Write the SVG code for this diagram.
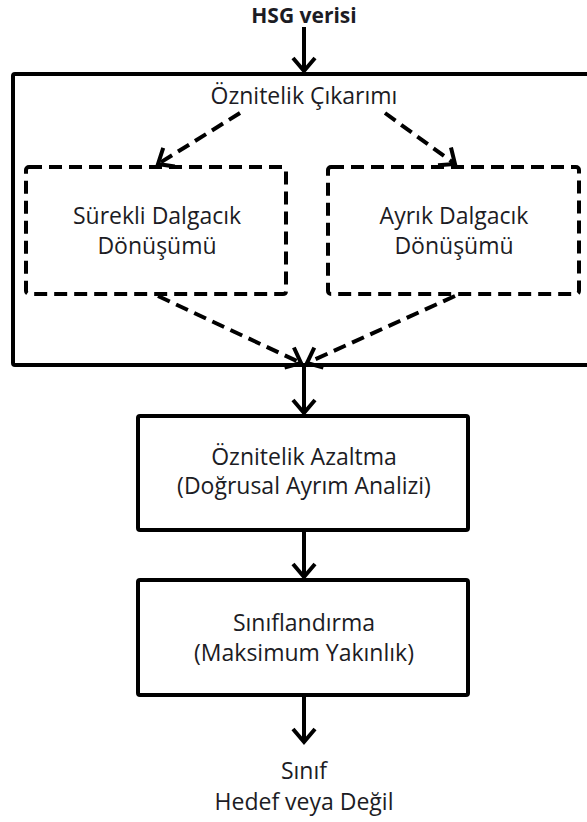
<svg xmlns="http://www.w3.org/2000/svg" width="587" height="822" viewBox="0 0 587 822">
  <style>
    .lbl { font-family: "Open Sans", "Noto Sans", "Liberation Sans", sans-serif; font-size: 23px; fill: #1c1c24; text-anchor: middle; }
    .title { font-weight: bold; font-size: 21px; }
    .box { fill: none; stroke: #000; stroke-width: 4; }
    .dbox { fill: none; stroke: #000; stroke-width: 4; stroke-dasharray: 13 7; }
    .solid { fill: none; stroke: #000; stroke-width: 4; marker-end: url(#head); }
    .dashed { fill: none; stroke: #000; stroke-width: 4; stroke-dasharray: 13 7; marker-end: url(#head); }
  </style>
  <defs>
    <marker id="head" markerUnits="userSpaceOnUse" viewBox="0 0 24 28" markerWidth="24" markerHeight="28" refX="20" refY="14" orient="auto">
      <path d="M7,3 L20,14 L7,25" fill="none" stroke="#000" stroke-width="4" stroke-linejoin="miter"/>
    </marker>
  </defs>
  <rect width="587" height="822" fill="#fff"/>

  <!-- input label -->
  <g id="input">
    <text class="lbl title" x="304" y="23">HSG verisi</text>
  </g>

  <!-- feature extraction container -->
  <g id="extraction">
    <rect class="box" x="13" y="74" width="600" height="291" rx="2"/>
    <text class="lbl" x="304" y="104">Öznitelik Çıkarımı</text>
  </g>

  <g id="cwt">
    <rect class="dbox" x="26" y="167" width="260" height="127" rx="3"/>
    <text class="lbl" x="157" y="224">Sürekli Dalgacık</text>
    <text class="lbl" x="157" y="254">Dönüşümü</text>
  </g>

  <g id="dwt">
    <rect class="dbox" x="328" y="167" width="251" height="127" rx="3"/>
    <text class="lbl" x="454" y="224">Ayrık Dalgacık</text>
    <text class="lbl" x="454" y="254">Dönüşümü</text>
  </g>

  <g id="reduction">
    <rect class="box" x="138" y="416" width="330" height="114" rx="2"/>
    <text class="lbl" x="304" y="465">Öznitelik Azaltma</text>
    <text class="lbl" x="304" y="494">(Doğrusal Ayrım Analizi)</text>
  </g>

  <g id="classification">
    <rect class="box" x="138" y="580" width="330" height="115" rx="2"/>
    <text class="lbl" x="304" y="631">Sınıflandırma</text>
    <text class="lbl" x="304" y="661">(Maksimum Yakınlık)</text>
  </g>

  <g id="output">
    <text class="lbl" x="304" y="779">Sınıf</text>
    <text class="lbl" x="304" y="810">Hedef veya Değil</text>
  </g>

  <!-- connectors -->
  <g id="connectors">
    <line class="solid" x1="304" y1="27" x2="304" y2="71"/>
    <line class="dashed" x1="240" y1="113" x2="158" y2="164"/>
    <line class="dashed" x1="385" y1="113" x2="455" y2="164"/>
    <line class="dashed" x1="158" y1="296" x2="301" y2="363"/>
    <line class="dashed" x1="455" y1="296" x2="307" y2="363"/>
    <line class="solid" x1="304" y1="365" x2="304" y2="413"/>
    <line class="solid" x1="304" y1="530" x2="304" y2="577"/>
    <line class="solid" x1="304" y1="695" x2="304" y2="742"/>
  </g>
</svg>
